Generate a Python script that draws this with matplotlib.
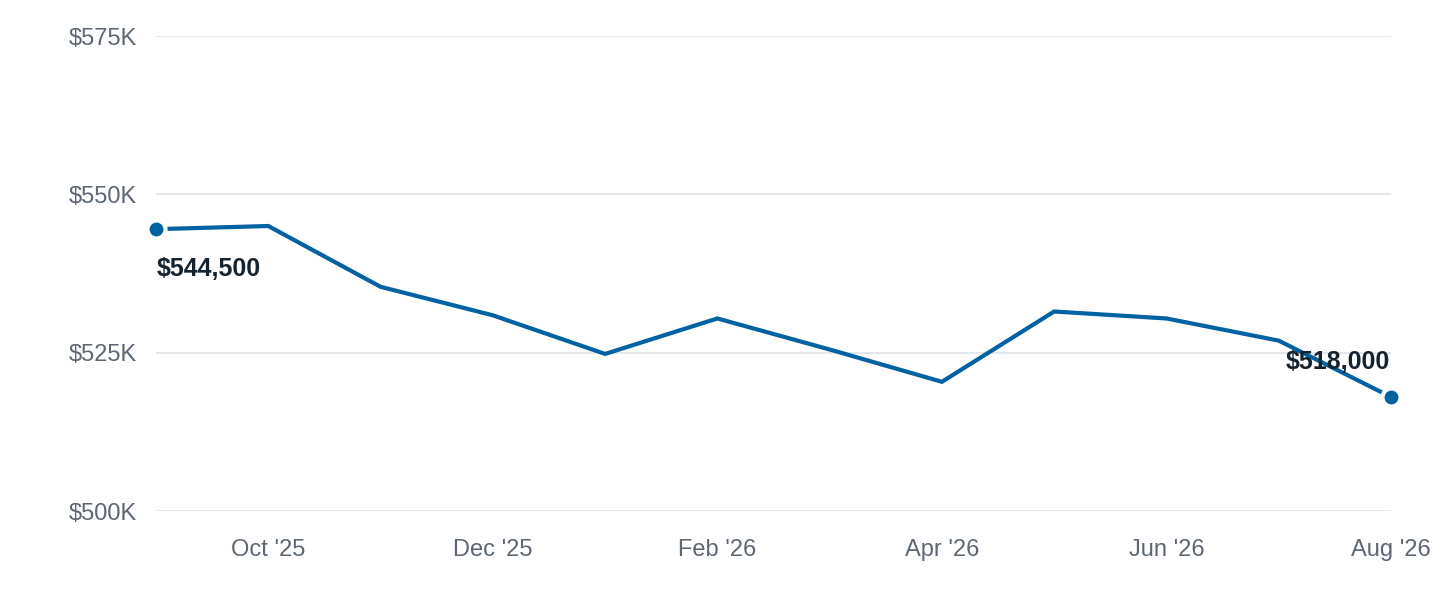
import matplotlib.pyplot as plt
from matplotlib.ticker import FuncFormatter

plt.rcParams['font.family'] = ['Liberation Sans', 'DejaVu Sans']

# monthly values, Sep '25 .. Aug '26
months = ["Sep '25", "Oct '25", "Nov '25", "Dec '25", "Jan '26", "Feb '26",
          "Mar '26", "Apr '26", "May '26", "Jun '26", "Jul '26", "Aug '26"]
values = [544500, 545000, 535400, 530900, 524800, 530400,
          525500, 520400, 531500, 530400, 526900, 518000]

yticks = [500000, 525000, 550000, 575000]

line_color = '#0062a1'
grid_color = '#e4e8ed'
tick_color = '#5c6773'
label_color = '#15232e'

x = list(range(len(months)))

fig = plt.figure(figsize=(14.4, 6), dpi=100)
ax = fig.add_axes([156/1440, 89/600, (1391-156)/1440, (511-36)/600])

ax.plot(x, values, color=line_color, lw=3, solid_joinstyle='miter', zorder=3)
# end points only
ax.plot([x[0], x[-1]], [values[0], values[-1]], 'o', color=line_color,
        ms=13, mec='white', mew=3, zorder=4, clip_on=False)

ax.annotate('$%s' % format(values[0], ','), (x[0], values[0]),
            xytext=(1, -40), textcoords='offset pixels', ha='left', va='center',
            fontsize=18, fontweight='bold', color=label_color, zorder=5)
ax.annotate('$%s' % format(values[-1], ','), (x[-1], values[-1]),
            xytext=(-1, 35), textcoords='offset pixels', ha='right', va='center',
            fontsize=18, fontweight='bold', color=label_color, zorder=5)

ax.set_xlim(0, len(months) - 1)
ax.set_ylim(500000, 575000)
ax.set_yticks(yticks)
ax.yaxis.set_major_formatter(FuncFormatter(lambda v, p: '$%dK' % (v / 1000)))
ax.set_xticks(x[1::2])
ax.set_xticklabels(months[1::2])

ax.grid(axis='y', color=grid_color, lw=1.5)
ax.set_axisbelow(True)
for s in ax.spines.values():
    s.set_visible(False)
ax.tick_params(axis='both', length=0, labelsize=17, colors=tick_color)
ax.tick_params(axis='y', pad=14)
ax.tick_params(axis='x', pad=20)

fig.savefig('out.png', dpi=100)
